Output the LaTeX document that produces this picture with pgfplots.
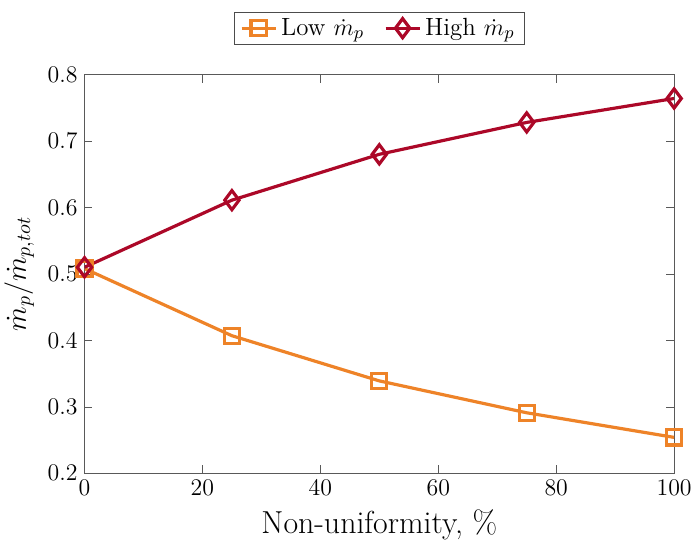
\documentclass[border=0pt]{standalone}
\usepackage{pgfplots}
\pgfplotsset{compat=1.18}
\definecolor{lowc}{RGB}{238,131,40}
\definecolor{highc}{RGB}{172,8,40}
\begin{document}
\begin{tikzpicture}
\useasboundingbox (-42.5pt,-34pt) rectangle (306.5pt,238pt);
\begin{axis}[
  at={(0,0)}, anchor=origin,
  scale only axis,
  width=296.5pt, height=200.5pt,
  xmin=0, xmax=100, ymin=0.2, ymax=0.8,
  xtick={0,20,40,60,80,100},
  ytick={0.2,0.3,0.4,0.5,0.6,0.7,0.8},
  yticklabel style={/pgf/number format/fixed,/pgf/number format/precision=1,/pgf/number format/fixed zerofill},
  tick align=inside,
  tick pos=both,
  major tick length=4pt,
  axis line style={gray!70!black, line width=0.5pt},
  tick style={gray!70!black},
  ticklabel style={font=\fontsize{12.5}{15}\selectfont},
  xlabel={Non-uniformity, \%},
  ylabel={$\dot{m}_p/\dot{m}_{p,tot}$},
  xlabel style={font=\fontsize{16}{18}\selectfont},
  ylabel style={font=\fontsize{14.5}{17}\selectfont},
  legend columns=2,
  legend style={at={(0.5,1.0)}, anchor=south, yshift=15pt, font=\fontsize{12.5}{14}\selectfont, draw=black!70, line width=0.5pt, inner ysep=1pt, /tikz/every even column/.append style={column sep=8pt}},
  legend cell align=left,
]
\addplot[lowc, line width=1.6pt, mark=square, mark size=3.8pt, mark options={line width=1.6pt}] coordinates {
(0,0.508) (25,0.407) (50,0.339) (75,0.291) (100,0.254)};
\addlegendentry{Low $\dot{m}_p$}
\addplot[highc, line width=1.6pt, mark=diamond, mark size=4.8pt, mark options={line width=1.6pt}] coordinates {
(0,0.510) (25,0.611) (50,0.680) (75,0.728) (100,0.764)};
\addlegendentry{High $\dot{m}_p$}
\end{axis}
\end{tikzpicture}
\end{document}
